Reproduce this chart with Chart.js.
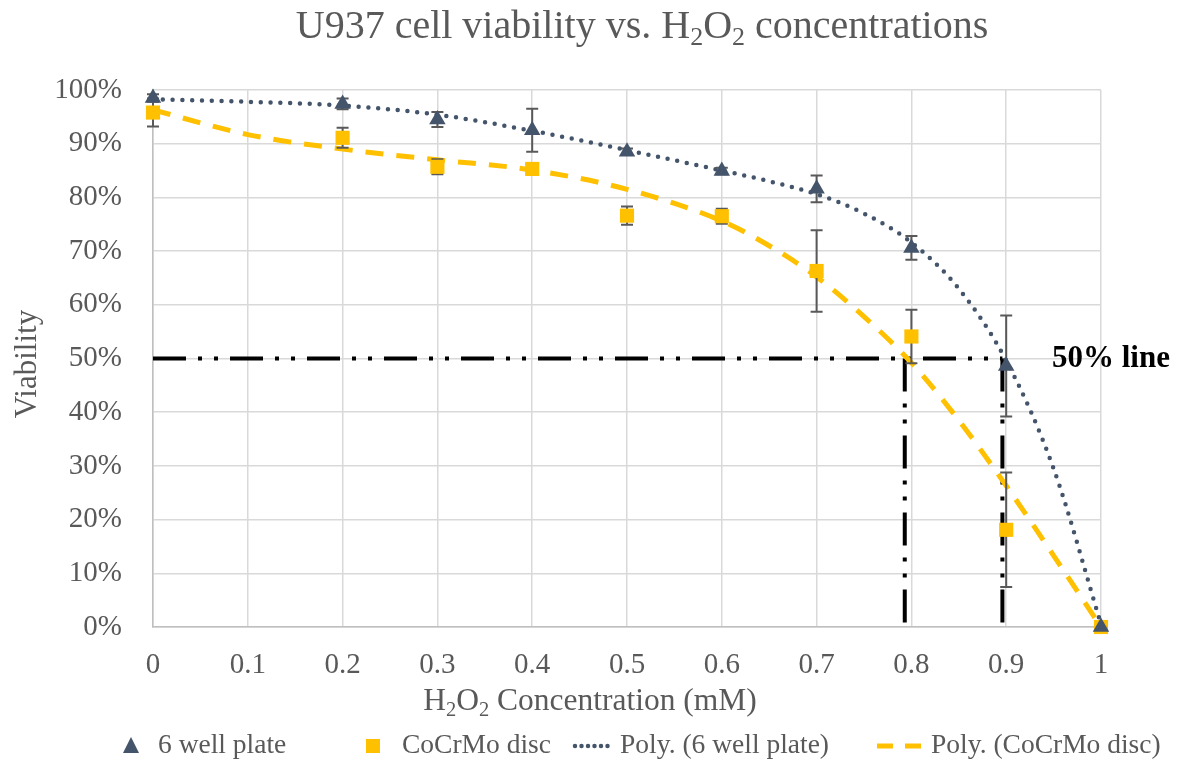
<!DOCTYPE html>
<html>
<head>
<meta charset="utf-8">
<script src="https://cdn.jsdelivr.net/npm/chart.js@4/dist/chart.umd.min.js"></script>
<style>
  body { margin: 0; background: #ffffff; }
  #grafico { display: block; }
</style>
</head>
<body>
<canvas id="grafico" width="1181" height="765"></canvas>
<script>
// datos
const concentraciones = [0, 0.2, 0.3, 0.4, 0.5, 0.6, 0.7, 0.8, 0.9, 1];
const placa6 = [98.5, 97.4, 94.5, 92.5, 88.5, 84.9, 81.6, 70.6, 48.6, 0];
const placa6Err = [0.7, 1.0, 1.4, 4.0, 0.6, 0.6, 2.5, 2.2, 9.4, 0];
const discoCoCrMo = [95.8, 91.1, 85.7, 85.3, 76.6, 76.5, 66.3, 54.1, 18.1, 0];
const discoErr = [2.6, 1.85, 1.4, 0.4, 1.7, 1.4, 7.6, 5.0, 10.65, 0];

// lineas de tendencia (polinomicas)
const tendenciaX = [0, 0.1, 0.2, 0.3, 0.4, 0.5, 0.6, 0.65, 0.7, 0.75, 0.8, 0.85, 0.9, 0.95, 1];
const tendenciaPlaca = [98.3, 97.8, 97.1, 95.4, 92.4, 88.8, 85.0, 83.0, 80.6, 77.0, 71.6, 63.0, 49.6, 29.5, 0.5];
const tendenciaDisco = [96.3, 91.7, 89.0, 87.0, 85.1, 81.5, 75.6, 71.0, 65.2, 57.8, 49.2, 38.5, 26.3, 13.3, 0];

// linea del 50% y cortes con las tendencias
const nivel50 = 50;
const cortes50 = [0.793, 0.896];

const xTicks = ['0', '0.1', '0.2', '0.3', '0.4', '0.5', '0.6', '0.7', '0.8', '0.9', '1'];
const yTicks = ['0%', '10%', '20%', '30%', '40%', '50%', '60%', '70%', '80%', '90%', '100%'];

const FUENTE = '"Liberation Serif", "Times New Roman", serif';
const GRIS = '#595959';
const AZUL = '#44546A';
const AMARILLO = '#FFC000';
const guion50 = [33, 12, 4, 12, 4, 12];

function puntos(xs, ys) {
    return xs.map((x, i) => ({ x: x, y: ys[i] }));
}

// texto con subindices
function textoRico(ctx, partes, x, y, size, align) {
    let ancho = 0;
    partes.forEach(p => {
        ctx.font = (p.sub ? size * 0.65 : size) + 'px ' + FUENTE;
        ancho += ctx.measureText(p.t).width;
    });
    let cx = align === 'center' ? x - ancho / 2 : x;
    ctx.textBaseline = 'middle';
    ctx.textAlign = 'left';
    partes.forEach(p => {
        ctx.font = (p.sub ? size * 0.65 : size) + 'px ' + FUENTE;
        ctx.fillText(p.t, cx, p.sub ? y + size * 0.28 : y);
        cx += ctx.measureText(p.t).width;
    });
}

const erroresPlugin = {
    id: 'errores',
    beforeDatasetDraw(chart, args) {
        if (args.meta.label !== 'CoCrMo disc') return;
        const ctx = chart.ctx;
        const xs = chart.scales.x;
        const ys = chart.scales.y;
        ctx.save();
        ctx.strokeStyle = GRIS;
        ctx.lineWidth = 2;
        const series = [[placa6, placa6Err], [discoCoCrMo, discoErr]];
        series.forEach(([vals, errs]) => {
            vals.forEach((v, i) => {
                if (!errs[i]) return;
                const px = xs.getPixelForValue(concentraciones[i]);
                const top = ys.getPixelForValue(v + errs[i]);
                const bot = ys.getPixelForValue(v - errs[i]);
                ctx.beginPath();
                ctx.moveTo(px, top); ctx.lineTo(px, bot);
                ctx.moveTo(px - 6, top); ctx.lineTo(px + 6, top);
                ctx.moveTo(px - 6, bot); ctx.lineTo(px + 6, bot);
                ctx.stroke();
            });
        });
        ctx.restore();
    }
};

const textosPlugin = {
    id: 'textos',
    afterDraw(chart) {
        const ctx = chart.ctx;
        const area = chart.chartArea;
        const ys = chart.scales.y;
        ctx.save();
        ctx.fillStyle = GRIS;
        // titulo
        textoRico(ctx, [
            { t: 'U937 cell viability vs. H' }, { t: '2', sub: true },
            { t: 'O' }, { t: '2', sub: true }, { t: ' concentrations' }
        ], 642, 27, 40, 'center');
        // titulo eje x
        textoRico(ctx, [
            { t: 'H' }, { t: '2', sub: true }, { t: 'O' }, { t: '2', sub: true },
            { t: ' Concentration (mM)' }
        ], 590, 702, 31.5, 'center');
        // titulo eje y
        ctx.save();
        ctx.translate(28, 364);
        ctx.rotate(-Math.PI / 2);
        ctx.font = '31px ' + FUENTE;
        ctx.textAlign = 'center';
        ctx.textBaseline = 'middle';
        ctx.fillText('Viability', 0, 0);
        ctx.restore();
        // etiqueta 50%
        ctx.fillStyle = '#000000';
        ctx.font = 'bold 31px ' + FUENTE;
        ctx.textAlign = 'left';
        ctx.textBaseline = 'middle';
        ctx.fillText('50% line', area.right - 49, ys.getPixelForValue(nivel50));

        // leyenda
        const ly = 746;
        ctx.fillStyle = AZUL;
        ctx.beginPath();
        ctx.moveTo(131, ly - 9); ctx.lineTo(139, ly + 7); ctx.lineTo(123, ly + 7);
        ctx.closePath(); ctx.fill();
        ctx.fillStyle = AMARILLO;
        ctx.fillRect(366, ly - 7, 14, 14);
        ctx.lineWidth = 4.5;
        ctx.strokeStyle = AZUL;
        ctx.lineCap = 'round';
        ctx.setLineDash([0, 6.5]);
        ctx.beginPath(); ctx.moveTo(575, ly); ctx.lineTo(612, ly); ctx.stroke();
        ctx.strokeStyle = AMARILLO;
        ctx.lineCap = 'butt';
        ctx.lineWidth = 5;
        ctx.setLineDash([16, 12]);
        ctx.beginPath(); ctx.moveTo(877, ly); ctx.lineTo(923, ly); ctx.stroke();
        ctx.setLineDash([]);
        ctx.fillStyle = GRIS;
        ctx.font = '27.5px ' + FUENTE;
        const etiquetas = chart.data.datasets.slice(0, 4).map(d => d.label);
        const posX = [158, 402, 620, 931];
        etiquetas.forEach((t, i) => ctx.fillText(t, posX[i], ly));
        ctx.restore();
    }
};

const ctx = document.getElementById('grafico').getContext('2d');
const myChart = new Chart(ctx, {
    type: 'scatter',
    data: {
        datasets: [
            {
                label: '6 well plate',
                data: puntos(concentraciones, placa6),
                pointStyle: 'triangle',
                pointRadius: 9.5,
                pointHoverRadius: 9.5,
                backgroundColor: AZUL,
                borderColor: AZUL,
                borderWidth: 0,
                clip: false,
                order: 0,
            },
            {
                label: 'CoCrMo disc',
                data: puntos(concentraciones, discoCoCrMo),
                pointStyle: 'rect',
                pointRadius: 10,
                pointHoverRadius: 10,
                backgroundColor: AMARILLO,
                borderColor: AMARILLO,
                borderWidth: 0,
                clip: false,
                order: 0,
            },
            {
                label: 'Poly. (6 well plate)',
                type: 'line',
                data: puntos(tendenciaX, tendenciaPlaca),
                borderColor: AZUL,
                borderWidth: 4.5,
                borderDash: [0, 9.8],
                borderCapStyle: 'round',
                cubicInterpolationMode: 'monotone',
                pointRadius: 0,
                fill: false,
                order: 1,
            },
            {
                label: 'Poly. (CoCrMo disc)',
                type: 'line',
                data: puntos(tendenciaX, tendenciaDisco),
                borderColor: AMARILLO,
                borderWidth: 5,
                borderDash: [18, 13],
                cubicInterpolationMode: 'monotone',
                pointRadius: 0,
                fill: false,
                order: 1,
            },
            {
                label: '50% line',
                type: 'line',
                data: [{ x: 0, y: nivel50 }, { x: cortes50[1], y: nivel50 }],
                borderColor: '#000000',
                borderWidth: 4,
                borderDash: guion50,
                pointRadius: 0,
                fill: false,
                order: 2,
            },
            {
                label: 'corte disco',
                type: 'line',
                data: [{ x: cortes50[0], y: nivel50 }, { x: cortes50[0], y: 0 }],
                borderColor: '#000000',
                borderWidth: 4,
                borderDash: guion50,
                pointRadius: 0,
                fill: false,
                order: 2,
            },
            {
                label: 'corte placa',
                type: 'line',
                data: [{ x: cortes50[1], y: nivel50 }, { x: cortes50[1], y: 0 }],
                borderColor: '#000000',
                borderWidth: 4,
                borderDash: guion50,
                pointRadius: 0,
                fill: false,
                order: 2,
            },
        ],
    },
    options: {
        responsive: false,
        animation: false,
        devicePixelRatio: 1,
        layout: { padding: { top: 90, right: 80, bottom: 0, left: 0 } },
        plugins: {
            legend: { display: false },
            title: { display: false },
            tooltip: { enabled: false },
        },
        scales: {
            x: {
                type: 'linear',
                min: 0,
                max: 1,
                afterFit: s => { s.height = 138; },
                afterBuildTicks: s => { s.ticks = xTicks.map((t, i) => ({ value: i / 10 })); },
                grid: { color: '#D9D9D9', lineWidth: 1.5, drawTicks: false },
                border: { color: '#BFBFBF', width: 1.5 },
                ticks: {
                    padding: 21,
                    color: GRIS,
                    font: { family: FUENTE, size: 29 },
                    maxRotation: 0,
                    callback: (v, i) => xTicks[i],
                },
            },
            y: {
                min: 0,
                max: 100,
                afterFit: s => { s.width = 153; },
                afterBuildTicks: s => { s.ticks = yTicks.map((t, i) => ({ value: i * 10 })); },
                grid: { color: '#D9D9D9', lineWidth: 1.5, drawTicks: false },
                border: { color: '#BFBFBF', width: 1.5 },
                ticks: {
                    padding: 31,
                    color: GRIS,
                    font: { family: FUENTE, size: 29 },
                    callback: (v, i) => yTicks[i],
                },
            },
        },
    },
    plugins: [erroresPlugin, textosPlugin],
});
</script>
</body>
</html>
